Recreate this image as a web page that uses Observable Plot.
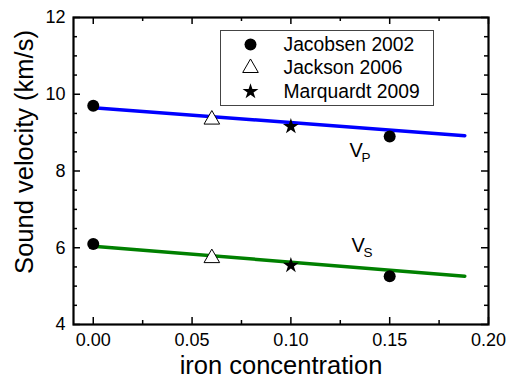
<!DOCTYPE html>
<html><head><meta charset="utf-8">
<script src="https://cdn.jsdelivr.net/npm/d3@7"></script>
<script src="https://cdn.jsdelivr.net/npm/@observablehq/plot@0.6"></script>
<style>body{margin:0;background:#fff}</style>
</head><body><div id="chart"></div>
<script>
// ---- data ----
const studies = ["Jacobsen 2002", "Jackson 2006", "Marquardt 2009"];
const studySymbols = ["circle", "triangle", "star"];
const pointStudy = ["Jacobsen 2002", "Jacobsen 2002", "Jackson 2006", "Marquardt 2009"];
const pointFe = [0.00, 0.15, 0.06, 0.10];
const pointVp = [9.70, 8.90, 9.34, 9.16];
const pointVs = [6.10, 5.26, 5.73, 5.54];
const fitFe = [0.00, 0.188];
const fitVp = [9.65, 8.92];
const fitVs = [6.04, 5.26];
const labelMain = ["V", "V"];
const labelSub = ["P", "S"];
const labelFe = [0.133, 0.134];
const labelV = [8.52, 6.06];
const xMajor = [0.00, 0.05, 0.10, 0.15, 0.20];
const xMinor = [0.025, 0.075, 0.125, 0.175];
const yMajor = [4, 6, 8, 10, 12];
const yMinor = [4.5, 5, 5.5, 6.5, 7, 7.5, 8.5, 9, 9.5, 10.5, 11, 11.5];

// ---- tables ----
const points = pointFe.map((fe, i) => ({fe, vp: pointVp[i], vs: pointVs[i], study: pointStudy[i]}));
const fit = fitFe.map((fe, i) => ({fe, vp: fitVp[i], vs: fitVs[i]}));
const labels = labelMain.map((m, i) => ({m, s: labelSub[i], fe: labelFe[i], v: labelV[i]}));

const W = 512, H = 378, mL = 73, mR = 24, mT = 17, mB = 54;
const pW = W - mL - mR, pH = H - mT - mB;
const majLen = 7, minLen = 4;

// symbol styles (constant sizes, not scaled)
const symStyle = {
  circle:   {symbol: "circle", fill: "black", r: 6},
  triangle: {symbol: "triangle", fill: "white", stroke: "black", strokeWidth: 1, r: 5.8},
  star:     {symbol: "star", fill: "black", r: 5}
};

const dotMarks = (yField) => studies.map((s, i) =>
  Plot.dot(points.filter(d => d.study === s), {x: "fe", y: yField, ...symStyle[studySymbols[i]]})
);

const legendMarks = studies.flatMap((s, i) => {
  const dy = 27 + i * 23.5;
  return [
    Plot.dot([s], {frameAnchor: "top-left", dx: 177, dy, ...symStyle[studySymbols[i]]}),
    Plot.text([s], {frameAnchor: "top-left", dx: 210, dy, text: d => d, textAnchor: "start", lineAnchor: "middle", fontSize: 19.3, fill: "black"})
  ];
});

const chart = Plot.plot({
  width: W, height: H,
  marginLeft: mL, marginRight: mR, marginTop: mT, marginBottom: mB,
  style: {fontFamily: "'Liberation Sans', Arial, sans-serif", background: "white", color: "black", overflow: "visible"},
  x: {domain: [-0.01, 0.20]},
  y: {domain: [4, 12]},
  marks: [
    Plot.axisX(xMajor, {tickSize: 0, tickPadding: 9, fontSize: 18, tickFormat: d => d.toFixed(2), label: null}),
    Plot.axisY(yMajor, {tickSize: 0, tickPadding: 8, fontSize: 18, tickFormat: d => String(d), label: null}),
    // inward ticks on all four sides
    Plot.tickX(xMajor, {x: d => d, insetTop: pH - majLen, stroke: "black", strokeWidth: 1.5}),
    Plot.tickX(xMajor, {x: d => d, insetBottom: pH - majLen, stroke: "black", strokeWidth: 1.5}),
    Plot.tickX(xMinor, {x: d => d, insetTop: pH - minLen, stroke: "black", strokeWidth: 1.5}),
    Plot.tickX(xMinor, {x: d => d, insetBottom: pH - minLen, stroke: "black", strokeWidth: 1.5}),
    Plot.tickY(yMajor, {y: d => d, insetRight: pW - majLen, stroke: "black", strokeWidth: 1.5}),
    Plot.tickY(yMajor, {y: d => d, insetLeft: pW - majLen, stroke: "black", strokeWidth: 1.5}),
    Plot.tickY(yMinor, {y: d => d, insetRight: pW - minLen, stroke: "black", strokeWidth: 1.5}),
    Plot.tickY(yMinor, {y: d => d, insetLeft: pW - minLen, stroke: "black", strokeWidth: 1.5}),
    // fits
    Plot.line(fit, {x: "fe", y: "vp", stroke: "#0000ff", strokeWidth: 3.5}),
    Plot.line(fit, {x: "fe", y: "vs", stroke: "#008000", strokeWidth: 3.5}),
    // points
    ...dotMarks("vp"),
    ...dotMarks("vs"),
    // V_P / V_S labels
    Plot.text(labels, {x: "fe", y: "v", text: "m", fontSize: 20, fill: "black"}),
    Plot.text(labels, {x: "fe", y: "v", text: "s", fontSize: 13.5, dx: 5.5, dy: 7, textAnchor: "start", fill: "black"}),
    // legend
    Plot.frame({insetLeft: 147, insetRight: 55, insetTop: 13, insetBottom: 219, stroke: "#444", strokeWidth: 1}),
    ...legendMarks,
    // axis titles
    Plot.text(["iron concentration"], {frameAnchor: "bottom", dy: 31, lineAnchor: "top", textAnchor: "middle", text: d => d, fontSize: 25.5, fill: "black"}),
    Plot.text(["Sound velocity (km/s)"], {frameAnchor: "left", dx: -59, dy: -19, rotate: -90, lineAnchor: "top", textAnchor: "middle", text: d => d, fontSize: 25.5, fill: "black"}),
    Plot.frame({stroke: "black", strokeWidth: 2.2})
  ]
});
document.getElementById("chart").appendChild(chart);
</script>
</body></html>
